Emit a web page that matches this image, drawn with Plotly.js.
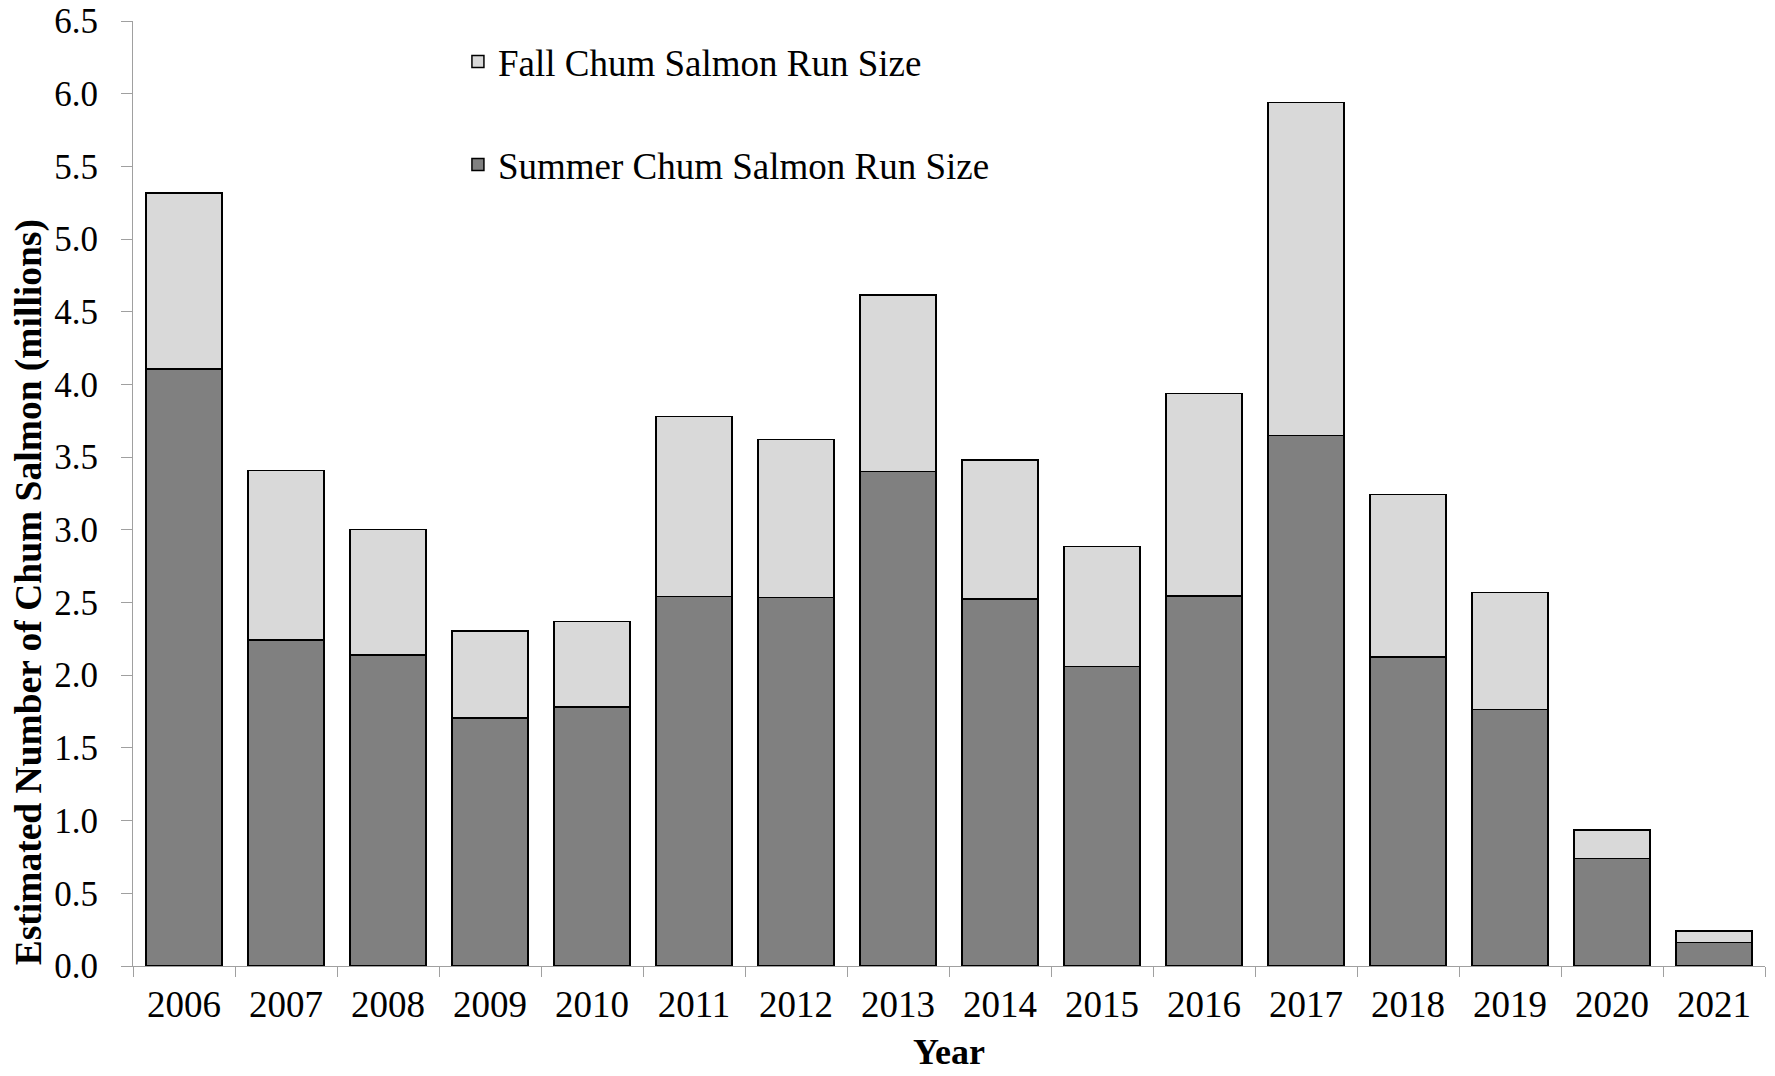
<!DOCTYPE html>
<html>
<head>
<meta charset="utf-8">
<script src="https://cdn.plot.ly/plotly-3.0.1.min.js"></script>
<style>
  html, body { margin: 0; padding: 0; background: #ffffff; }
  #chart { width: 1775px; height: 1076px; }
</style>
</head>
<body>
<div id="chart"></div>
<script>
// Years (categories)
var years = ['2006','2007','2008','2009','2010','2011','2012','2013','2014','2015','2016','2017','2018','2019','2020','2021'];
// Summer chum salmon run size (millions)
var summerRun = [4.107, 2.244, 2.140, 1.705, 1.783, 2.541, 2.535, 3.400, 2.526, 2.060, 2.546, 3.650, 2.125, 1.765, 0.738, 0.160];
// Fall chum salmon run size (millions), stacked on top of summer
var fallRun = [1.211, 1.163, 0.861, 0.598, 0.585, 1.239, 1.085, 1.216, 0.956, 0.826, 1.391, 2.291, 1.117, 0.803, 0.196, 0.081];
// Y tick values
var yTicks = [0.0, 0.5, 1.0, 1.5, 2.0, 2.5, 3.0, 3.5, 4.0, 4.5, 5.0, 5.5, 6.0, 6.5];

var serif = 'Liberation Serif, Times New Roman, Times, serif';

var traces = [
  {
    type: 'bar',
    name: 'Summer Chum Salmon Run Size',
    legendgroup: 'summer',
    legendrank: 2,
    x: years,
    y: summerRun,
    marker: { color: '#808080', line: { color: '#000000', width: 1.5 } },
    hoverinfo: 'x+y'
  },
  {
    type: 'bar',
    name: 'Fall Chum Salmon Run Size',
    legendgroup: 'fall',
    legendrank: 1,
    x: years,
    y: fallRun,
    marker: { color: '#d9d9d9', line: { color: '#000000', width: 1.5 } },
    hoverinfo: 'x+y'
  }
];

var layout = {
  width: 1775,
  height: 1076,
  paper_bgcolor: '#ffffff',
  plot_bgcolor: '#ffffff',
  barmode: 'stack',
  bargap: 0.255,
  margin: { l: 133, r: 10, t: 21, b: 110 },
  font: { family: serif, size: 35, color: '#000000' },
  showlegend: true,
  legend: {
    x: 0.1991, xanchor: 'left',
    y: 0.9896, yanchor: 'top',
    traceorder: 'grouped',
    tracegroupgap: 52,
    bgcolor: 'rgba(0,0,0,0)',
    font: { family: serif, size: 37, color: '#000000' }
  },
  xaxis: {
    type: 'category',
    tickson: 'boundaries',
    ticks: 'outside',
    ticklen: 10,
    tickcolor: '#a0a0a0',
    tickwidth: 1,
    showline: true,
    linecolor: '#a0a0a0',
    linewidth: 1,
    showgrid: false,
    zeroline: false,
    tickfont: { family: serif, size: 37, color: '#000000' },
    ticklabelstandoff: 6,
    automargin: false
  },
  yaxis: {
    range: [0, 6.5],
    tickmode: 'array',
    tickvals: yTicks,
    ticktext: yTicks.map(function (v) { return v.toFixed(1); }),
    ticks: 'outside',
    ticklen: 11,
    tickcolor: '#a0a0a0',
    tickwidth: 1,
    showline: true,
    linecolor: '#a0a0a0',
    linewidth: 1,
    showgrid: false,
    zeroline: false,
    tickfont: { family: serif, size: 35, color: '#000000' },
    ticklabelstandoff: 16,
    automargin: false
  },
  annotations: [
    {
      text: '<b>Estimated Number of Chum Salmon (millions)</b>',
      xref: 'paper', yref: 'paper',
      x: -0.064, xanchor: 'center',
      y: 0.395, yanchor: 'middle',
      textangle: -90,
      showarrow: false,
      font: { family: serif, size: 37.5, color: '#000000' }
    },
    {
      text: '<b>Year</b>',
      xref: 'paper', yref: 'paper',
      x: 0.5, xanchor: 'center',
      y: -0.091, yanchor: 'middle',
      showarrow: false,
      font: { family: serif, size: 36, color: '#000000' }
    }
  ]
};

Plotly.newPlot('chart', traces, layout, { displayModeBar: false, staticPlot: true });
</script>
</body>
</html>
